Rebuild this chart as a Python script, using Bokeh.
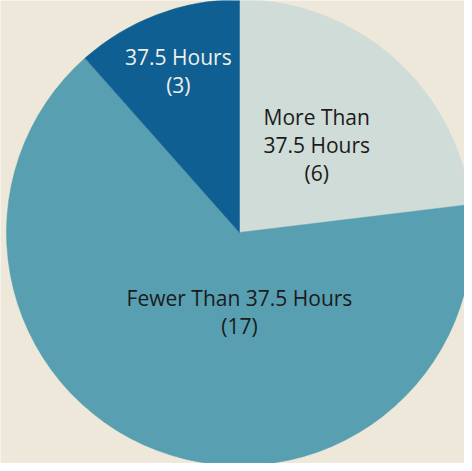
import math
from bokeh.plotting import figure
from bokeh.models import ColumnDataSource, Range1d
from bokeh.core.properties import value
from bokeh.embed import file_html
from bokeh.resources import INLINE

# data
categories = ["More Than\n37.5 Hours", "Fewer Than 37.5 Hours", "37.5 Hours"]
counts = [6, 17, 3]
colors = ["#d0dcd7", "#579fb1", "#0f5f92"]
text_colors = ["#1b1b1b", "#1b1b1b", "#eef0ea"]
# label placement (angle in degrees where the label sits, fraction of radius)
label_angle = [None, -90.0, None]
label_frac = [0.50, 0.34, 0.74]

W, H = 464, 463
cx, cy, R = 239, 231, 233

total = sum(counts)
starts, ends, lx, ly, labels = [], [], [], [], []
cum = 0
for i, c in enumerate(counts):
    a_start = math.pi / 2 - (cum + c) / total * 2 * math.pi
    a_end = math.pi / 2 - cum / total * 2 * math.pi
    cum += c
    starts.append(a_start)
    ends.append(a_end)
    mid = (a_start + a_end) / 2 if label_angle[i] is None else math.radians(label_angle[i])
    lx.append(cx + R * label_frac[i] * math.cos(mid))
    ly.append(cy + R * label_frac[i] * math.sin(mid))
    labels.append(f"{categories[i]}\n({c})")

src = ColumnDataSource(dict(start=starts, end=ends, color=colors,
                            lx=lx, ly=ly, label=labels, tc=text_colors))

p = figure(width=W, height=H, output_backend="svg", toolbar_location=None,
           x_range=Range1d(0, W), y_range=Range1d(0, H), min_border=0)
p.axis.visible = False
p.grid.visible = False
p.outline_line_color = None
p.background_fill_color = "#ede8d9"
p.border_fill_color = "#ede8d9"

p.wedge(x=cx, y=cy, radius=R, start_angle="start", end_angle="end",
        fill_color="color", line_color="color", line_width=0.5, source=src)

p.text(x="lx", y="ly", text="label", text_color="tc", source=src,
       text_font=value("Open Sans"), text_font_size="21px",
       text_align="center", text_baseline="middle", text_line_height=1.0)

open("out.html", "w").write(file_html(p, INLINE))
